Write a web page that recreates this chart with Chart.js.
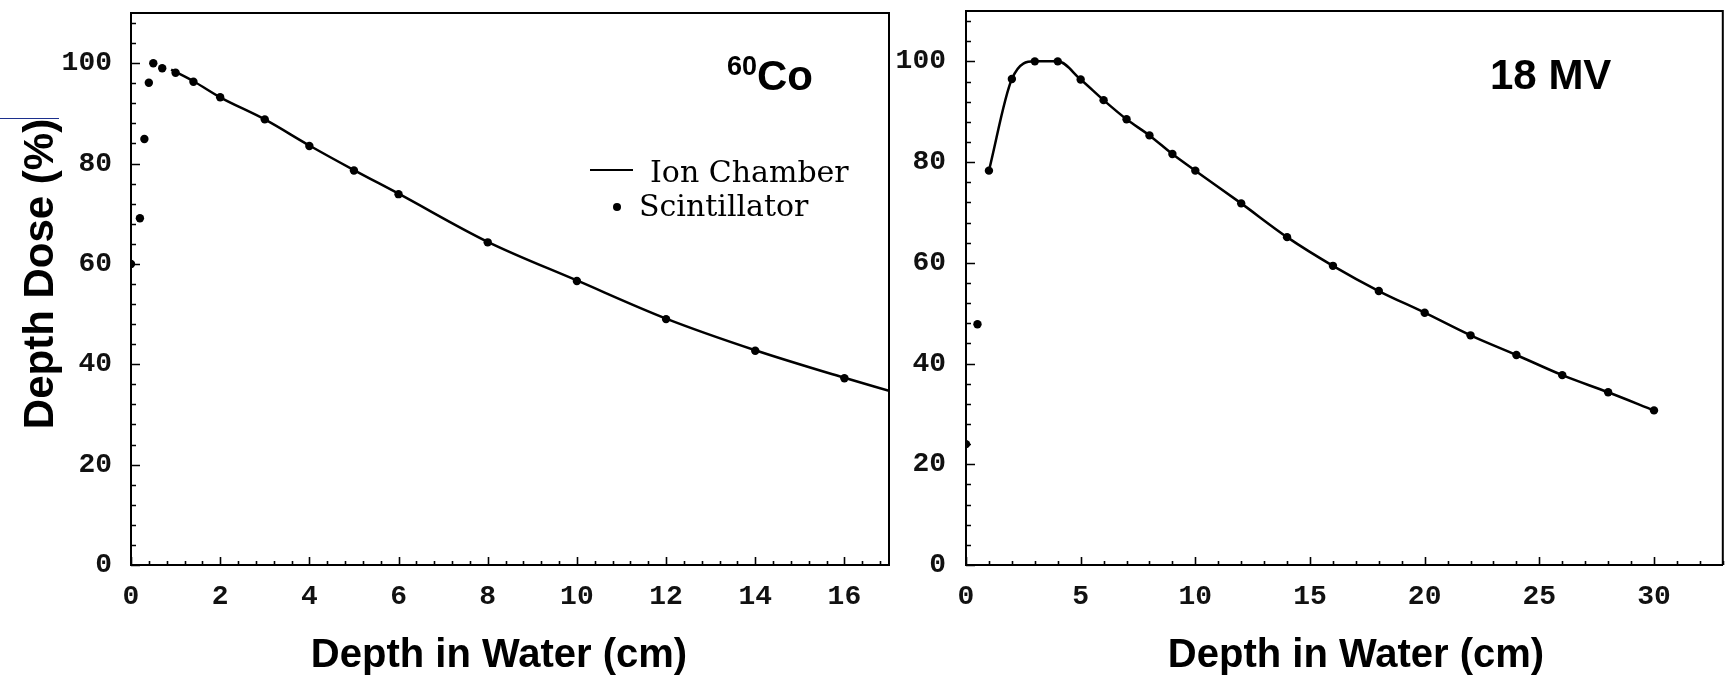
<!DOCTYPE html>
<html>
<head>
<meta charset="utf-8">
<script src="https://cdn.jsdelivr.net/npm/chart.js@4.4.1/dist/chart.umd.min.js"></script>
<style>
  html, body { margin: 0; padding: 0; background: #fff; }
  body { width: 1727px; height: 677px; position: relative; overflow: hidden; }
  #c1 { position: absolute; left: 0; top: 0; }
  #c2 { position: absolute; left: 880px; top: 0; }
  #mark { position: absolute; left: 0; top: 118px; width: 59px; height: 1px; background: #1c2f8c; }
</style>
</head>
<body>
<canvas id="c1" width="895" height="677"></canvas>
<canvas id="c2" width="847" height="677"></canvas>
<div id="mark"></div>
<script>
// ---------- Data: 60Co panel ----------
const coScintDepth = [0, 0.2, 0.3, 0.4, 0.5, 0.7, 1, 1.4, 2, 3, 4, 5, 6, 8, 10, 12, 14, 16];
const coScintDose  = [60, 69.1, 84.9, 96.1, 100, 99.0, 98.1, 96.3, 93.2, 88.8, 83.5, 78.6, 73.9, 64.3, 56.6, 49.0, 42.7, 37.2];
const coIonDepth   = [0.9, 1.4, 2, 3, 4, 5, 6, 8, 10, 12, 14, 16, 17];
const coIonDose    = [98.7, 96.4, 93.2, 88.8, 83.6, 78.7, 74.0, 64.4, 56.7, 49.1, 42.8, 37.3, 34.7];

// ---------- Data: 18 MV panel ----------
const mvScintDepth = [0, 0.5, 1, 2, 3, 4, 5, 6, 7, 8, 9, 10, 12, 14, 16, 18, 20, 22, 24, 26, 28, 30];
const mvScintDose  = [24.0, 47.8, 78.3, 96.5, 100, 100, 96.4, 92.3, 88.5, 85.3, 81.6, 78.3, 71.8, 65.1, 59.4, 54.4, 50.1, 45.6, 41.7, 37.7, 34.3, 30.7];
const mvIonDepth   = [1, 2, 3, 4, 5, 6, 7, 8, 9, 10, 12, 14, 16, 18, 20, 22, 24, 26, 28, 30];
const mvIonDose    = [78.3, 96.5, 100, 100, 96.4, 92.3, 88.5, 85.3, 81.6, 78.3, 71.8, 65.1, 59.4, 54.4, 50.1, 45.6, 41.7, 37.7, 34.3, 30.7];

// ---------- Axis ticks ----------
const yTickValues   = [0, 20, 40, 60, 80, 100];
const coXTickValues = [0, 2, 4, 6, 8, 10, 12, 14, 16];
const mvXTickValues = [0, 5, 10, 15, 20, 25, 30];

const seriesNames = ['Ion Chamber', 'Scintillator'];
const panelLabels = ['Co', '18 MV'];
const xTitle = 'Depth in Water (cm)';
const yTitle = 'Depth Dose (%)';

const pts = (xs, ys) => xs.map((x, i) => ({ x, y: ys[i] }));

const TICK_FONT = { family: '"Liberation Mono", "Courier New", monospace', size: 28, weight: 'bold' };
const TITLE_FONT = 'bold 40px "Liberation Sans", Arial, sans-serif';

// Inward ticks + top/right frame
const frameTicks = {
  id: 'frameTicks',
  afterDatasetsDraw(chart, args, o) {
    const { ctx, chartArea: a, scales: { x, y } } = chart;
    ctx.save();
    ctx.strokeStyle = '#000';
    ctx.lineWidth = 1.6;
    ctx.beginPath();
    const n = Math.floor((x.max - x.min) / o.xMinor + 1e-6);
    for (let i = 0; i <= n; i++) {
      const v = x.min + i * o.xMinor;
      const major = o.xTicks.some(t => Math.abs(t - v) < 1e-6);
      const px = Math.round(x.getPixelForValue(v)) + 0.5;
      ctx.moveTo(px, a.bottom);
      ctx.lineTo(px, a.bottom - (major ? 8 : 4));
    }
    const m = Math.floor((y.max - y.min) / o.yMinor + 1e-6);
    for (let i = 0; i <= m; i++) {
      const v = y.min + i * o.yMinor;
      const major = yTickValues.some(t => Math.abs(t - v) < 1e-6);
      const py = Math.round(y.getPixelForValue(v)) + 0.5;
      ctx.moveTo(a.left, py);
      ctx.lineTo(a.left + (major ? 9 : 5), py);
    }
    ctx.stroke();
    ctx.lineWidth = 2;
    ctx.beginPath();
    ctx.moveTo(a.left, a.top);
    ctx.lineTo(a.right, a.top);
    ctx.lineTo(a.right, a.bottom);
    ctx.stroke();
    ctx.restore();
  }
};

// Titles, panel labels and legend
const annotations = {
  id: 'annotations',
  afterDraw(chart, args, o) {
    const ctx = chart.ctx;
    ctx.save();
    ctx.fillStyle = '#000';
    ctx.textBaseline = 'alphabetic';
    // x axis title
    ctx.font = TITLE_FONT;
    ctx.textAlign = 'center';
    ctx.fillText(xTitle, o.xTitleX, 667);
    // y axis title
    if (o.yTitle) {
      ctx.save();
      ctx.translate(53, 274);
      ctx.rotate(-Math.PI / 2);
      ctx.font = 'bold 42px "Liberation Sans", Arial, sans-serif';
      ctx.textAlign = 'center';
      ctx.fillText(yTitle, 0, 0);
      ctx.restore();
    }
    ctx.textAlign = 'left';
    if (o.panel === 'co') {
      ctx.font = 'bold 27px "Liberation Sans", Arial, sans-serif';
      ctx.fillText('60', 727, 75);
      ctx.font = 'bold 42px "Liberation Sans", Arial, sans-serif';
      ctx.fillText(panelLabels[0], 757, 90);
      // legend
      ctx.strokeStyle = '#000';
      ctx.lineWidth = 2.2;
      ctx.beginPath();
      ctx.moveTo(590, 170);
      ctx.lineTo(633, 170);
      ctx.stroke();
      ctx.font = '30px "DejaVu Serif", serif';
      ctx.fillText(seriesNames[0], 650, 182);
      ctx.beginPath();
      ctx.arc(617, 207, 4, 0, Math.PI * 2);
      ctx.fill();
      ctx.fillText(seriesNames[1], 639, 216);
    } else {
      ctx.font = 'bold 42px "Liberation Sans", Arial, sans-serif';
      ctx.fillText(panelLabels[1], 610, 89);
    }
    ctx.restore();
  }
};

function makeChart(canvasId, cfg) {
  return new Chart(document.getElementById(canvasId), {
    type: 'scatter',
    data: {
      datasets: [
        {
          label: seriesNames[1],
          data: pts(cfg.sx, cfg.sy),
          showLine: false,
          pointRadius: 4.2,
          pointBackgroundColor: '#000',
          pointBorderWidth: 0,
          order: 0
        },
        {
          label: seriesNames[0],
          data: pts(cfg.lx, cfg.ly),
          showLine: true,
          borderColor: '#000',
          borderWidth: 2.5,
          pointRadius: 0,
          cubicInterpolationMode: 'monotone',
          fill: false,
          order: 1
        }
      ]
    },
    options: {
      responsive: false,
      animation: false,
      layout: { padding: { left: 0, top: cfg.top, right: cfg.right, bottom: 0 } },
      plugins: {
        legend: { display: false },
        tooltip: { enabled: false },
        frameTicks: { xMinor: cfg.xMinor, yMinor: 4, xTicks: cfg.xTicks },
        annotations: { panel: cfg.panel, yTitle: cfg.panel === 'co', xTitleX: cfg.xTitleX }
      },
      scales: {
        x: {
          type: 'linear',
          min: 0,
          max: cfg.xMax,
          grid: { display: false, drawTicks: false },
          border: { display: true, color: '#000', width: 2 },
          ticks: { stepSize: cfg.xStep, padding: 15, color: '#111', font: TICK_FONT, maxRotation: 0 },
          afterBuildTicks: s => { s.ticks = cfg.xTicks.map(v => ({ value: v })); },
          afterFit: s => { s.height = 112; s.paddingLeft = 0; s.paddingRight = 0; }
        },
        y: {
          type: 'linear',
          min: 0,
          max: 110,
          grid: { display: false, drawTicks: false },
          border: { display: true, color: '#000', width: 2 },
          ticks: { stepSize: 20, padding: cfg.yPad, color: '#111', font: TICK_FONT },
          afterBuildTicks: s => { s.ticks = yTickValues.map(v => ({ value: v })); },
          afterFit: s => { s.width = cfg.left; s.paddingTop = 0; s.paddingBottom = 0; }
        }
      }
    },
    plugins: [frameTicks, annotations]
  });
}

makeChart('c1', {
  panel: 'co', sx: coScintDepth, sy: coScintDose, lx: coIonDepth, ly: coIonDose,
  xMax: 17, xStep: 2, xMinor: 0.4, xTicks: coXTickValues,
  left: 131, top: 13, right: 6, yPad: 19, xTitleX: 499
});
makeChart('c2', {
  panel: 'mv', sx: mvScintDepth, sy: mvScintDose, lx: mvIonDepth, ly: mvIonDose,
  xMax: 33, xStep: 5, xMinor: 1, xTicks: mvXTickValues,
  left: 86, top: 11, right: 2, yPad: 20, xTitleX: 476
});
</script>
</body>
</html>
